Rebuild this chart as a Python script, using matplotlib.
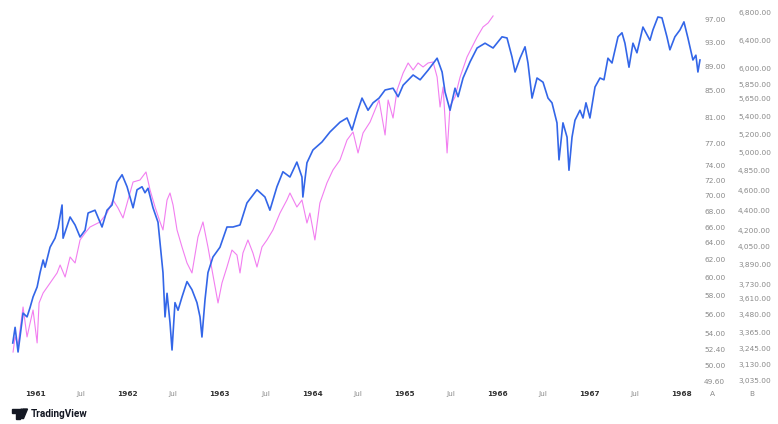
import numpy as np
import pandas as pd
import matplotlib
matplotlib.use("Agg")
import matplotlib.pyplot as plt
from matplotlib.patches import Polygon, Circle

# ---------------- data ----------------
# time in decimal years, values in axis units
blue_t = [1960.759, 1960.784, 1960.816, 1960.870, 1960.913, 1960.946, 1960.978, 1961.022,
          1961.054, 1961.087, 1961.108, 1961.162, 1961.216, 1961.249, 1961.292, 1961.303,
          1961.379, 1961.433, 1961.487, 1961.541, 1961.574, 1961.649, 1961.725, 1961.779,
          1961.833, 1961.887, 1961.942, 1961.996, 1962.028, 1962.061, 1962.104, 1962.158,
          1962.190, 1962.223, 1962.277, 1962.331, 1962.353, 1962.385, 1962.407, 1962.429,
          1962.461, 1962.483, 1962.515, 1962.548, 1962.591, 1962.645, 1962.699, 1962.753,
          1962.786, 1962.807, 1962.840, 1962.872, 1962.926, 1963.002, 1963.078, 1963.143,
          1963.219, 1963.294, 1963.403, 1963.489, 1963.543, 1963.619, 1963.684, 1963.760,
          1963.835, 1963.890, 1963.900, 1963.944, 1964.009, 1964.106, 1964.193, 1964.301,
          1964.377, 1964.431, 1964.485, 1964.539, 1964.604, 1964.658, 1964.723, 1964.788,
          1964.874, 1964.929, 1964.983, 1965.091, 1965.167, 1965.253, 1965.351, 1965.405,
          1965.437, 1965.491, 1965.545, 1965.578, 1965.632, 1965.708, 1965.784, 1965.870,
          1965.957, 1966.054, 1966.108, 1966.162, 1966.195, 1966.249, 1966.303, 1966.335,
          1966.379, 1966.433, 1966.498, 1966.552, 1966.595, 1966.649, 1966.671, 1966.714,
          1966.758, 1966.779, 1966.812, 1966.844, 1966.898, 1966.931, 1966.963, 1967.006,
          1967.061, 1967.115, 1967.158, 1967.201, 1967.245, 1967.310, 1967.353, 1967.385,
          1967.429, 1967.472, 1967.515, 1967.580, 1967.656, 1967.688, 1967.742, 1967.786,
          1967.840, 1967.872, 1967.926, 1967.981, 1968.024, 1968.067, 1968.121, 1968.153,
          1968.175, 1968.197]
blue_v = [53.1, 54.7, 52.1, 56.2, 55.8, 56.8, 57.9, 59.0,
          60.6, 62.0, 61.2, 63.5, 64.6, 65.9, 68.75, 64.6,
          67.25, 66.25, 64.75, 65.6, 67.75, 68.1, 66.0, 68.1,
          68.75, 71.7, 72.7, 71.1, 69.75, 68.4, 70.7, 71.1,
          70.3, 70.9, 68.4, 66.6, 64.0, 60.6, 55.8, 58.3,
          55.2, 52.4, 57.3, 56.5, 57.9, 59.6, 58.7, 57.3,
          55.8, 53.7, 57.6, 60.6, 62.35, 63.5, 66.0, 66.0,
          66.25, 69.0, 70.7, 69.75, 68.1, 71.1, 73.1, 72.4,
          74.4, 72.4, 69.75, 74.3, 76.05, 77.15, 78.7, 80.2,
          80.85, 79.0, 81.6, 83.8, 82.0, 83.1, 83.8, 85.0,
          85.3, 84.0, 85.8, 87.5, 86.7, 88.3, 90.3, 88.0,
          84.7, 82.0, 85.3, 84.0, 87.0, 89.7, 92.0, 92.8,
          92.0, 93.9, 93.7, 90.5, 88.0, 90.3, 92.2, 89.5,
          83.8, 87.0, 86.3, 83.8, 83.1, 80.1, 74.7, 80.1,
          77.9, 73.3, 77.9, 80.5, 82.0, 80.85, 83.1, 80.85,
          85.5, 87.0, 86.7, 90.3, 89.5, 93.9, 94.6, 92.8,
          88.8, 92.8, 91.2, 95.6, 93.3, 95.1, 97.35, 97.2,
          93.9, 91.7, 93.9, 95.1, 96.5, 93.7, 90.0, 90.8,
          88.0, 90.0]

pink_t = [1960.762, 1960.784, 1960.816, 1960.870, 1960.913, 1960.946, 1960.978, 1961.022,
          1961.043, 1961.087, 1961.162, 1961.238, 1961.271, 1961.325, 1961.379, 1961.433,
          1961.487, 1961.541, 1961.595, 1961.703, 1961.779, 1961.844, 1961.898, 1961.952,
          1962.006, 1962.061, 1962.136, 1962.201, 1962.245, 1962.299, 1962.353, 1962.385,
          1962.429, 1962.461, 1962.494, 1962.537, 1962.591, 1962.645, 1962.699, 1962.764,
          1962.818, 1962.872, 1962.926, 1962.981, 1963.024, 1963.078, 1963.132, 1963.186,
          1963.219, 1963.251, 1963.305, 1963.359, 1963.403, 1963.457, 1963.511, 1963.576,
          1963.652, 1963.727, 1963.760, 1963.835, 1963.890, 1963.944, 1963.976, 1964.030,
          1964.084, 1964.160, 1964.225, 1964.301, 1964.377, 1964.442, 1964.496, 1964.550,
          1964.626, 1964.723, 1964.788, 1964.821, 1964.874, 1964.918, 1964.983, 1965.037,
          1965.091, 1965.145, 1965.199, 1965.253, 1965.307, 1965.351, 1965.383, 1965.416,
          1965.459, 1965.491, 1965.545, 1965.600, 1965.675, 1965.729, 1965.784, 1965.848,
          1965.903, 1965.957]
pink_v = [3216, 3328, 3268, 3541, 3328, 3426, 3518, 3283,
          3572, 3653, 3738, 3823, 3890, 3789, 3961, 3908,
          4116, 4181, 4238, 4286, 4371, 4500, 4420, 4324,
          4500, 4700, 4725, 4825, 4600, 4430, 4286, 4210,
          4500, 4570, 4450, 4210, 4050, 3908, 3823, 4144,
          4286, 4050, 3806, 3572, 3739, 3873, 4023, 3979,
          3823, 3997, 4116, 3997, 3873, 4050, 4116, 4210,
          4371, 4500, 4570, 4430, 4500, 4276, 4371, 4116,
          4470, 4688, 4850, 4933, 5133, 5224, 4992, 5212,
          5341, 5636, 5189, 5636, 5388, 5770, 5960, 6083,
          5990, 6083, 6028, 6083, 6097, 5920, 5539, 5810,
          4992, 5553, 5677, 5920, 6166, 6303, 6444, 6593,
          6652, 6756]

a_tick_values = [97.00, 93.00, 89.00, 85.00, 81.00, 77.00, 74.00, 72.00, 70.00, 68.00,
                 66.00, 64.00, 62.00, 60.00, 58.00, 56.00, 54.00, 52.40, 50.00, 49.60]
b_tick_values = [6800, 6400, 6000, 5850, 5650, 5400, 5200, 5000, 4850, 4600, 4400,
                 4200, 4050, 3890, 3730, 3610, 3480, 3365, 3245, 3130, 3035]
year_ticks = [1961, 1962, 1963, 1964, 1965, 1966, 1967, 1968]
year_labels = ["1961", "1962", "1963", "1964", "1965", "1966", "1967", "1968"]
mid_label = "Jul"

# ---------------- layout ----------------
W, H, DPI = 778, 424, 100
AX_LEFT_PX, AX_RIGHT_PX = 0, 702
AX_TOP_PX, AX_BOT_PX = 0, 385
X_LEFT_YEAR, X_RIGHT_YEAR = 1960.621, 1968.219
# rows (pixels from top) at which the price-scale labels sit
A_ROWS = [19, 42, 66, 90, 117, 143, 165, 180, 195, 211, 227, 243, 260, 278, 296, 315, 334, 350, 366, 382]
B_ROWS = [13, 40, 69, 84, 99, 117, 134, 152, 170, 190, 210, 231, 247, 265, 284, 298, 315, 332, 348, 364, 380]

BLUE = "#3366e8"
PINK = "#f27ef0"
GRAY = "#8a8a8a"


def to_dt(years):
    out = []
    for y in years:
        yi = int(np.floor(y))
        s = pd.Timestamp(yi, 1, 1)
        e = pd.Timestamp(yi + 1, 1, 1)
        out.append(s + (e - s) * (y - yi))
    return pd.DatetimeIndex(out)


def make_scale(vals, rows):
    v = np.array(vals[::-1], float)
    p = AX_BOT_PX - np.array(rows[::-1], float)

    def lin(x, xs, ys):
        x = np.asarray(x, float)
        y = np.interp(x, xs, ys)
        lo_s = (ys[1] - ys[0]) / (xs[1] - xs[0])
        hi_s = (ys[-1] - ys[-2]) / (xs[-1] - xs[-2])
        y = np.where(x < xs[0], ys[0] + (x - xs[0]) * lo_s, y)
        y = np.where(x > xs[-1], ys[-1] + (x - xs[-1]) * hi_s, y)
        return y

    fwd = lambda x: lin(x, v, p)
    inv = lambda y: lin(y, p, v)
    return fwd, inv


fig = plt.figure(figsize=(W / DPI, H / DPI), dpi=DPI)
fig.patch.set_facecolor("white")
ax2 = fig.add_axes([AX_LEFT_PX / W, (H - AX_BOT_PX) / H,
                    (AX_RIGHT_PX - AX_LEFT_PX) / W, (AX_BOT_PX - AX_TOP_PX) / H])
ax = ax2.twinx()

fa, ia = make_scale(a_tick_values, A_ROWS)
fb, ib = make_scale(b_tick_values, B_ROWS)

ax.set_yscale("function", functions=(fa, ia))
ax2.set_yscale("function", functions=(fb, ib))
ax.set_ylim(float(ia(0)), float(ia(AX_BOT_PX - AX_TOP_PX)))
ax2.set_ylim(float(ib(0)), float(ib(AX_BOT_PX - AX_TOP_PX)))

ax2.plot(to_dt(pink_t), pink_v, color=PINK, lw=0.8, solid_joinstyle="round")
ax.plot(to_dt(blue_t), blue_v, color=BLUE, lw=1.2, solid_joinstyle="round")

for a in (ax, ax2):
    a.set_xlim(to_dt([X_LEFT_YEAR])[0], to_dt([X_RIGHT_YEAR])[0])
    for s in a.spines.values():
        s.set_visible(False)
    a.yaxis.tick_right()
    a.minorticks_off()

ax.set_yticks(a_tick_values)
ax.set_yticklabels([f"{v:.2f}" for v in a_tick_values])
ax.tick_params(axis="y", length=0, pad=1.5, labelsize=5.3, labelcolor=GRAY)
ax2.set_yticks(b_tick_values)
ax2.set_yticklabels([f"{v:,.2f}" for v in b_tick_values])
ax2.tick_params(axis="y", length=0, pad=26, labelsize=5.3, labelcolor=GRAY)

# x ticks (on the base axes; the twin hides its x-axis)
xt = []
xl = []
for y, lab in zip(year_ticks, year_labels):
    xt.append(pd.Timestamp(y, 1, 1)); xl.append(lab)
    if y < 1968:
        xt.append(pd.Timestamp(y, 7, 1)); xl.append(mid_label)
ax2.set_xticks(xt)
ax2.set_xticklabels(xl)
ax2.tick_params(axis="x", length=0, pad=4, labelsize=5.3)
for t in ax2.get_xticklabels():
    if t.get_text() == mid_label:
        t.set_color(GRAY)
    else:
        t.set_color("#333333")
        t.set_fontweight("bold")

# scale names
fig.text(712 / W, 1 - 394 / H, "A", ha="center", va="center", fontsize=5.3, color=GRAY)
fig.text(752 / W, 1 - 394 / H, "B", ha="center", va="center", fontsize=5.3, color=GRAY)

# TradingView mark
def px(x, y):
    return (x / DPI, (H - y) / DPI)

tr = fig.dpi_scale_trans
fig.add_artist(Polygon([px(12, 409), px(19.5, 409), px(19.5, 418.5), px(16, 418.5),
                        px(16, 412.5), px(12, 412.5)], closed=True, color="#131722", transform=tr))
fig.add_artist(Circle(px(21.8, 410.8), 1.7 / DPI, color="#131722", transform=tr))
fig.add_artist(Polygon([px(23.5, 409), px(27.5, 409), px(23.5, 418.5), px(19.8, 418.5)],
                       closed=True, color="#131722", transform=tr))
fig.text(31 / W, 1 - 414 / H, "TradingView", ha="left", va="center", fontsize=7.2,
         fontweight="bold", family="Roboto", color="#131722")

fig.savefig("out.png", dpi=DPI, facecolor="white")
